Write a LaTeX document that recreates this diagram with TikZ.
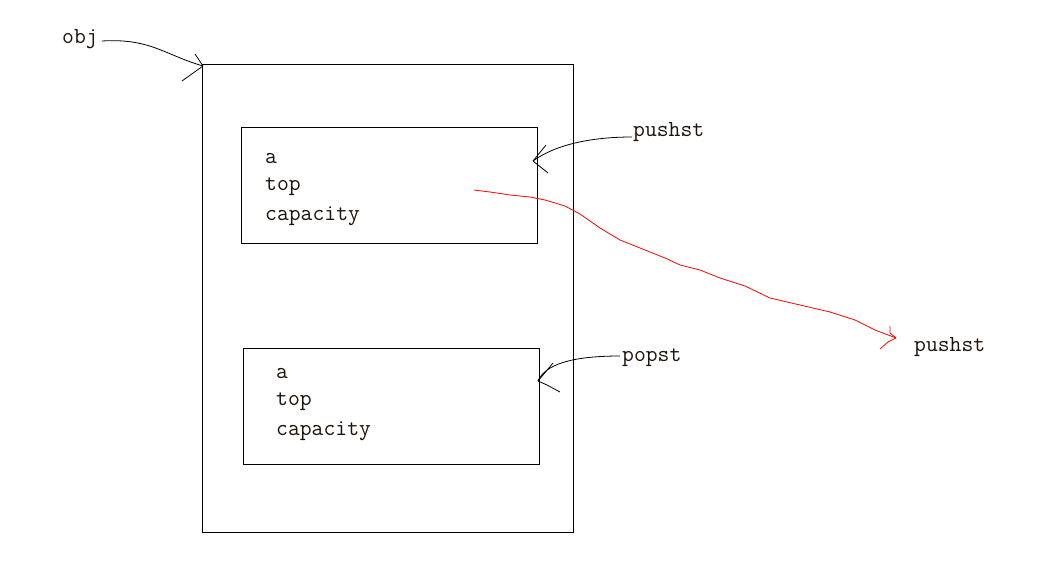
\documentclass[tikz,border=0pt]{standalone}
\usepackage{fontspec}
\begin{document}
\begin{tikzpicture}[x=1pt,y=-1pt,
  lbl/.style={font=\ttfamily\fontsize{23}{25}\selectfont, text=black!85!brown, inner sep=0pt, anchor=west},
  boxline/.style={draw=black, line width=0.8pt},
  hand/.style={line width=0.8pt, line join=round},
  redhand/.style={draw=red, line width=0.8pt, line join=round}]
\useasboundingbox (0,0) rectangle (1059,576);
% outer object
\node[boxline, minimum width=371pt, minimum height=468pt, inner sep=0pt, anchor=north west] (outer) at (202,64) {};
% inner boxes
\node[boxline, minimum width=296pt, minimum height=116pt, inner sep=0pt, anchor=north west] (push) at (241,127) {};
\node[boxline, minimum width=296pt, minimum height=116pt, inner sep=0pt, anchor=north west] (pop) at (243,348) {};
% fields
\node[lbl] (pa) at (265,159) {a};
\node[lbl] (pt) at (265,187) {top};
\node[lbl] (pc) at (265,216) {capacity};
\node[lbl] (qa) at (276,374) {a};
\node[lbl] (qt) at (276,402) {top};
\node[lbl] (qc) at (276,431) {capacity};
% labels
\node[lbl] (obj) at (62,39) {obj};
\node[lbl] (pushlbl) at (633,132) {pushst};
\node[lbl] (poplbl) at (622,358) {popst};
\node[lbl] (pushlbl2) at (914,347) {pushst};
% tips
\coordinate (objtip) at (203,66);
\coordinate (pushtip) at (533,161);
\coordinate (poptip) at (538,381);
\coordinate (redtip) at (896,338);
\coordinate (redstart) at (474,190);
% obj arrow
\draw[hand] (obj.east) ++(4,2) .. controls (150,38) and (165,55) .. (objtip);
\draw[hand] (objtip) -- (195,54);
\draw[hand] (objtip) -- (182,81);
% pushst arrow
\draw[hand] (pushlbl.west) ++(-1,5) .. controls (590,137) and (555,145) .. (pushtip);
\draw[hand] (pushtip) -- (546,145);
\draw[hand] (pushtip) -- (548,173);
% popst arrow
\draw[hand] (poplbl.west) ++(-2,-2) .. controls (570,356) and (545,365) .. (poptip);
\draw[hand] (poptip) -- (553,363);
\draw[hand] (poptip) -- (547,385) -- (560,392);
% red arrow
\draw[redhand] (redstart) -- (490,192) -- (510,195) -- (530,197) -- (545,200) -- (565,206) -- (580,214)
  -- (600,228) -- (620,240) -- (645,250) -- (665,258) -- (680,265) -- (700,270) -- (720,278)
  -- (745,286) -- (770,298) -- (800,305) -- (830,312) -- (855,320) -- (875,330) -- (redtip);
\draw[redhand] (redtip) -- (890,333) -- (890,326);
\draw[redhand] (redtip) -- (888,342) -- (880,349);
\end{tikzpicture}
\end{document}
